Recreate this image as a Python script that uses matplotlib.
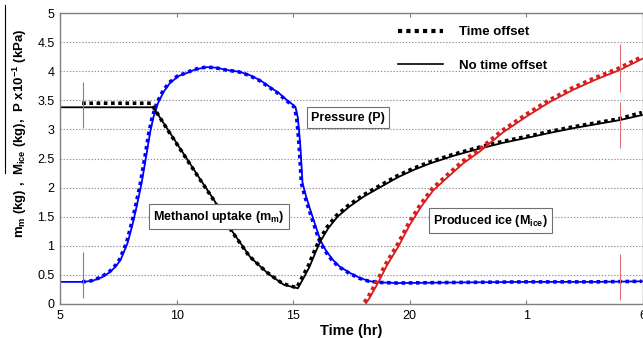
import matplotlib
matplotlib.use("Agg")
import matplotlib.pyplot as plt
from matplotlib.lines import Line2D

plt.rcParams['font.family'] = ['Liberation Sans', 'DejaVu Sans']
plt.rcParams['mathtext.fontset'] = 'custom'
plt.rcParams['mathtext.rm'] = 'Liberation Sans:bold'
plt.rcParams['mathtext.it'] = 'Liberation Sans:bold'
plt.rcParams['mathtext.bf'] = 'Liberation Sans:bold'

# ---------------- data (hours since midnight of day 1) ----------------
xticks = [5, 10, 15, 20, 25, 30]
xticklabels = ['5', '10', '15', '20', '1', '6']
yticks = [0, 0.5, 1, 1.5, 2, 2.5, 3, 3.5, 4, 4.5, 5]
yticklabels = ['0', '0.5', '1', '1.5', '2', '2.5', '3', '3.5', '4', '4.5', '5']

# Methanol uptake m_m (kg)
methanol_t = [5, 6, 7, 8, 9, 9.7, 10.4, 11.0, 11.6, 12.4, 13.15, 13.9, 14.6, 15.2,
              15.45, 15.7, 16.0, 16.2, 16.5, 16.9, 17.4, 18.0, 18.7, 19.5, 20.2, 20.9,
              21.9, 22.9, 24.0, 25.2, 26.0, 27.0, 28.0, 29.0, 30.0]
methanol_m = [3.38, 3.38, 3.38, 3.38, 3.38, 2.95, 2.52, 2.15, 1.79, 1.24, 0.81, 0.53, 0.33, 0.27,
              0.45, 0.64, 0.93, 1.10, 1.30, 1.50, 1.67, 1.84, 2.00, 2.18, 2.31, 2.42,
              2.55, 2.66, 2.77, 2.87, 2.94, 3.02, 3.09, 3.16, 3.25]
methanol_offset_t = [6, 7, 8, 8.95, 9.7, 10.4, 11.0, 11.6, 12.4, 13.15, 13.9, 14.6, 15.2,
                     15.45, 15.7, 16.0, 16.2, 16.5, 16.9, 17.4, 18.0, 18.7, 19.5, 20.2, 20.9,
                     21.9, 22.9, 24.0, 25.2, 26.0, 27.0, 28.0, 29.0, 30.0]
methanol_offset_m = [3.45, 3.45, 3.45, 3.45, 2.97, 2.54, 2.17, 1.81, 1.26, 0.83, 0.55, 0.35, 0.28,
                     0.47, 0.66, 0.95, 1.12, 1.32, 1.52, 1.69, 1.86, 2.02, 2.20, 2.33, 2.44,
                     2.57, 2.68, 2.79, 2.89, 2.96, 3.04, 3.11, 3.18, 3.29]

# Pressure P x 10^-1 (kPa)
pressure_t = [5, 6, 6.4, 6.8, 7.15, 7.4, 7.6, 7.9, 8.13, 8.3, 8.5, 8.7, 8.86, 9.0, 9.2, 9.45,
              9.72, 10.1, 10.45, 10.8, 11.3, 11.7, 12.17, 12.7, 13.15, 13.6, 14.0, 14.4,
              14.74, 15.0, 15.1, 15.2, 15.3, 15.4, 15.55, 15.73, 16.16, 16.4, 16.7, 17.0,
              17.45, 17.9, 18.3, 18.8, 19.5, 22.0, 25.0, 28.0, 30.0]
pressure_p = [0.38, 0.38, 0.40, 0.46, 0.55, 0.65, 0.76, 1.05, 1.40, 1.70, 2.08, 2.55, 2.94, 3.20, 3.45, 3.65,
              3.80, 3.92, 3.97, 4.03, 4.07, 4.06, 4.02, 3.99, 3.93, 3.84, 3.73, 3.62,
              3.50, 3.42, 3.38, 3.20, 2.75, 2.08, 1.85, 1.62, 1.10, 0.92, 0.76, 0.64,
              0.53, 0.44, 0.39, 0.37, 0.36, 0.37, 0.38, 0.38, 0.39]

# Produced ice M_ice (kg)
ice_t = [18.1, 18.3, 18.7, 19.0, 19.5, 20.0, 20.5, 21.0, 21.6, 22.3, 23.0, 24.0,
         25.0, 26.0, 27.0, 28.0, 29.0, 30.0]
ice_m = [0.0, 0.12, 0.41, 0.65, 0.98, 1.36, 1.68, 1.95, 2.17, 2.42, 2.62, 2.95,
         3.22, 3.47, 3.68, 3.86, 4.02, 4.22]

TIME_OFFSET = 0.05   # hr, shift of the "time offset" curves

BLUE = '#0000ff'
RED = '#d81e1e'
BLACK = '#000000'

# ---------------- figure ----------------
fig = plt.figure(figsize=(6.43, 3.38), dpi=100)
ax = fig.add_axes([60/643, 34/338, 583/643, 291/338])

dot_kw = dict(lw=2.6, linestyle=(0, (1, 1)), dash_capstyle='butt')
solid_kw = dict(lw=1.3, solid_capstyle='butt')

# pressure
ax.plot(pressure_t, pressure_p, color=BLUE, **solid_kw)
ax.plot([t - TIME_OFFSET for t in pressure_t[1:]], pressure_p[1:], color=BLUE, **dot_kw)

# methanol
ax.plot(methanol_t, methanol_m, color=BLACK, **solid_kw)
ax.plot([t - TIME_OFFSET for t in methanol_offset_t], methanol_offset_m, color=BLACK, **dot_kw)

# ice
ax.plot(ice_t, ice_m, color=RED, **solid_kw)
ax.plot([t - TIME_OFFSET for t in ice_t], [m + 0.03 for m in ice_m], color=RED, **dot_kw)

# short vertical markers
ax.vlines(6.0, 3.02, 3.81, color='#808080', lw=0.8)
ax.vlines(6.0, 0.10, 0.89, color='#808080', lw=0.8)
ax.vlines(29.0, 3.64, 4.47, color='#e07070', lw=0.8)
ax.vlines(29.0, 2.68, 3.47, color='#e07070', lw=0.8)
ax.vlines(29.0, 0.07, 0.86, color='#e07070', lw=0.8)

# axes styling
ax.set_xlim(5, 30)
ax.set_ylim(0, 5)
ax.set_xticks(xticks)
ax.set_xticklabels(xticklabels, fontsize=9)
ax.set_yticks(yticks)
ax.set_yticklabels(yticklabels, fontsize=9)
ax.tick_params(direction='in', length=3, color='#808080', top=True, right=False, pad=4)
ax.tick_params(axis='y', length=0)
for s in ax.spines.values():
    s.set_color('#808080')
    s.set_linewidth(1.0)
ax.yaxis.grid(True, linestyle=(0, (1.2, 1.6)), color='#909090', lw=0.8)
ax.set_axisbelow(True)

ax.set_xlabel('Time (hr)', fontsize=10.5, fontweight='bold', labelpad=2)
fig.text(20/643, 1 - 133/338,
         r'$m_m$ (kg) ,  $M_{ice}$ (kg),  P x10$^{-1}$ (kPa)',
         rotation=90, ha='center', va='center', fontsize=9.5, fontweight='bold')
fig.add_artist(Line2D([5/643, 5/643], [1 - 5/338, 1 - 173/338], color='black', lw=0.8))

# annotations
box = dict(boxstyle='square,pad=0.35', fc='white', ec='#707070', lw=0.8)
ax.text(17.35, 3.20, 'Pressure (P)', fontsize=9, fontweight='bold', ha='center', va='center', bbox=box)
ax.text(11.8, 1.50, r'Methanol uptake (m$_m$)', fontsize=9, fontweight='bold', ha='center', va='center', bbox=box)
ax.text(23.46, 1.43, r'Produced ice (M$_{ice}$)', fontsize=9, fontweight='bold', ha='center', va='center', bbox=box)

# legend
handles = [Line2D([], [], color=BLACK, lw=3.0, linestyle=(0, (1, 1)), dash_capstyle='butt'),
           Line2D([], [], color=BLACK, lw=1.2)]
leg = ax.legend(handles, ['Time offset', 'No time offset'], loc='upper left',
                bbox_to_anchor=(398/643, 1 - 26/338), bbox_transform=fig.transFigure,
                frameon=False, prop=dict(size=9.5, weight='bold'),
                handlelength=3.4, handletextpad=1.2, labelspacing=1.6, borderpad=0, borderaxespad=0)

fig.savefig('out.png', dpi=100)
